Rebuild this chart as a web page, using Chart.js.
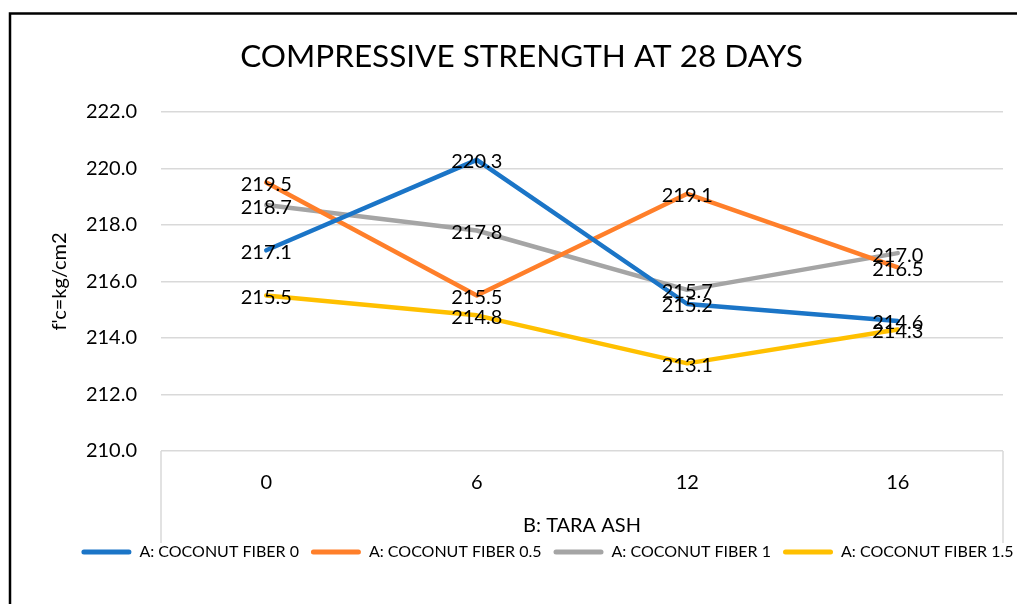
<!DOCTYPE html>
<html>
<head>
<meta charset="utf-8">
<script src="https://cdn.jsdelivr.net/npm/chart.js@4/dist/chart.umd.min.js"></script>
<style>
  html, body { margin: 0; padding: 0; background: #fff; overflow: hidden; }
  #wrap { position: relative; width: 1017px; height: 604px; }
</style>
</head>
<body>
<div id="wrap"><canvas id="c" width="1017" height="604"></canvas></div>
<script>
const categories = ['0', '6', '12', '16'];
const seriesNames = ['A: COCONUT FIBER 0', 'A: COCONUT FIBER 0.5', 'A: COCONUT FIBER 1', 'A: COCONUT FIBER 1.5'];
const fiber0 = [217.1, 220.3, 215.2, 214.6];
const fiber05 = [219.5, 215.5, 219.1, 216.5];
const fiber1 = [218.7, 217.8, 215.7, 217.0];
const fiber15 = [215.5, 214.8, 213.1, 214.3];
const seriesColors = ['#1B75C7', '#FF7F2A', '#A5A5A5', '#FFC000'];
const yMin = 210, yMax = 222, yStep = 2;

const FONT = 'Lato, "Open Sans", sans-serif';

const frameAndLabels = {
  id: 'frameAndLabels',
  afterLayout(chart) {
    const lg = chart.legend;
    if (lg) { lg.left += 26; lg.right += 26; }
  },
  beforeDraw(chart) {
    const ctx = chart.ctx;
    ctx.save();
    ctx.fillStyle = '#fff';
    ctx.fillRect(0, 0, chart.width, chart.height);
    ctx.restore();
  },
  afterDraw(chart) {
    const ctx = chart.ctx;
    const a = chart.chartArea;
    ctx.save();
    // category axis edge lines below the plot
    ctx.strokeStyle = '#d9d9d9';
    ctx.lineWidth = 1.5;
    ctx.beginPath();
    ctx.moveTo(a.left, a.bottom); ctx.lineTo(a.left, a.bottom + 92);
    ctx.moveTo(a.right, a.bottom); ctx.lineTo(a.right, a.bottom + 92);
    ctx.stroke();
    // data labels
    ctx.fillStyle = '#000';
    ctx.font = '20px ' + FONT;
    ctx.textAlign = 'center';
    ctx.textBaseline = 'middle';
    chart.data.datasets.forEach((ds, i) => {
      const meta = chart.getDatasetMeta(i);
      meta.data.forEach((pt, j) => {
        ctx.fillText(ds.data[j].toFixed(1), pt.x, pt.y + 2);
      });
    });
    // outer frame
    ctx.strokeStyle = '#000';
    ctx.lineWidth = 2.5;
    ctx.beginPath();
    ctx.moveTo(10, chart.height + 5);
    ctx.lineTo(10, 13.5);
    ctx.lineTo(chart.width + 5, 13.5);
    ctx.stroke();
    ctx.restore();
  }
};

const allSeries = [fiber0, fiber05, fiber1, fiber15];
const datasets = allSeries.map((vals, i) => ({
  label: seriesNames[i],
  data: vals,
  borderColor: seriesColors[i],
  backgroundColor: seriesColors[i],
  borderWidth: 4.5,
  borderCapStyle: 'round',
  borderJoinStyle: 'round',
  pointRadius: 0,
  pointHoverRadius: 0,
  tension: 0,
  fill: false
}));

new Chart(document.getElementById('c'), {
  type: 'line',
  data: { labels: categories, datasets },
  plugins: [frameAndLabels],
  options: {
    responsive: false,
    animation: false,
    events: [],
    layout: { padding: { left: 40, right: 14, top: 0, bottom: 34 } },
    plugins: {
      title: {
        display: true,
        text: 'COMPRESSIVE STRENGTH AT 28 DAYS',
        color: '#000',
        font: { family: FONT, size: 31.5, weight: 'normal' },
        padding: { top: 38, bottom: 36 }
      },
      legend: {
        display: true,
        position: 'bottom',
        align: 'center',
        labels: {
          color: '#000',
          font: { family: FONT, size: 16 },
          boxWidth: 50,
          boxHeight: 5,
          padding: 12,
          generateLabels(chart) {
            return chart.data.datasets.map((ds, i) => ({
              text: ds.label,
              fillStyle: ds.borderColor,
              strokeStyle: ds.borderColor,
              lineWidth: 0,
              borderRadius: 2.5,
              datasetIndex: i,
              hidden: false
            }));
          },
          useBorderRadius: true
        }
      },
      tooltip: { enabled: false }
    },
    scales: {
      x: {
        offset: true,
        grid: { display: false, drawTicks: false },
        border: { display: false },
        ticks: { color: '#000', font: { family: FONT, size: 20 }, padding: 20 },
        title: {
          display: true,
          text: 'B: TARA ASH',
          color: '#000',
          font: { family: FONT, size: 20 },
          padding: { top: 0, bottom: -6 }
        },
        afterFit(scale) { scale.height = 81; }
      },
      y: {
        min: yMin,
        max: yMax,
        ticks: {
          stepSize: yStep,
          color: '#000',
          font: { family: FONT, size: 20 },
          padding: 24,
          callback: v => Number(v).toFixed(1)
        },
        grid: { color: '#d9d9d9', lineWidth: 1.5, drawTicks: false },
        border: { display: false },
        title: {
          display: true,
          text: "f'c=kg/cm2",
          color: '#000',
          font: { family: FONT, size: 20 },
          padding: { top: 8, bottom: 0 }
        },
        afterFit(scale) { scale.width = 121; }
      }
    }
  }
});
</script>
</body>
</html>
